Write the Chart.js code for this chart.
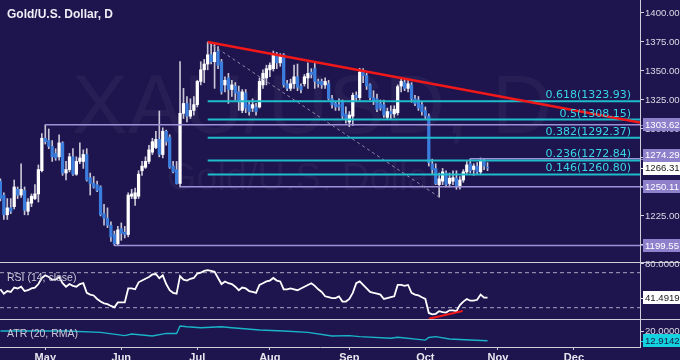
<!DOCTYPE html>
<html>
<head>
<meta charset="utf-8">
<script src="https://cdn.jsdelivr.net/npm/chart.js@4.4.1/dist/chart.umd.min.js"></script>
<style>
  html, body { margin: 0; padding: 0; background: #1e144e; }
</style>
</head>
<body>
<canvas id="chart" width="680" height="360"></canvas>
<script>
// Gold/U.S. Dollar daily, weekday index (May 2 = 0), first candle at index -13
const firstDay = -13;
const openP = [
  1255, 1243, 1226, 1232, 1233, 1248, 1243, 1247, 1229, 1236,
  1240, 1244, 1264, 1292, 1290, 1285, 1279, 1276, 1288, 1262,
  1265, 1276, 1261, 1272, 1272, 1278, 1258, 1253, 1252, 1250,
  1227, 1223, 1217, 1209, 1201, 1214, 1211, 1209, 1242, 1240,
  1242, 1264, 1267, 1272, 1280, 1284, 1291, 1278, 1298, 1293,
  1268, 1265, 1253, 1313.5, 1322, 1311, 1316, 1321, 1341, 1351,
  1356, 1364, 1358, 1367, 1358, 1338, 1344, 1334, 1337, 1332,
  1316, 1331, 1321, 1318, 1319, 1319, 1338, 1344, 1351, 1352,
  1364, 1357, 1364, 1339, 1335, 1339, 1345, 1337, 1339, 1344,
  1349, 1352, 1341, 1341, 1338, 1339, 1326, 1322, 1321, 1323,
  1313, 1306, 1311, 1329, 1327, 1349, 1346, 1338, 1327, 1326,
  1322, 1321, 1310, 1315, 1313, 1314, 1337, 1340, 1335, 1338,
  1326, 1325, 1321, 1316, 1311, 1270, 1266, 1252, 1255, 1262,
  1253, 1255, 1257.5, 1250, 1256, 1263, 1270, 1265, 1268, 1263,
  1272, 1267
];
const highP = [
  1257, 1245, 1240, 1240, 1256, 1250, 1270, 1250, 1240, 1244,
  1252, 1269, 1296, 1303.62, 1300, 1290, 1283, 1295, 1289, 1272,
  1279, 1283, 1276, 1288, 1282, 1283, 1262, 1259, 1255, 1251,
  1235, 1232, 1220, 1212, 1216, 1219, 1216, 1245, 1248, 1249,
  1264, 1272, 1276, 1286, 1292, 1298, 1315.5, 1301, 1299, 1295,
  1272, 1272, 1358, 1335, 1328, 1326, 1328, 1342, 1358, 1360,
  1375, 1374, 1373, 1371, 1360, 1345, 1348, 1342, 1340, 1337,
  1334, 1334, 1324, 1326, 1322, 1344, 1351, 1355, 1357, 1367.2,
  1366, 1365, 1365, 1342, 1343, 1355, 1356, 1339, 1347, 1357,
  1352, 1357, 1343, 1343, 1344, 1342, 1329, 1324, 1326, 1325,
  1319, 1315, 1331, 1332, 1352.3, 1352, 1348, 1339, 1333, 1330,
  1325, 1325, 1318, 1320, 1320, 1338, 1343.7, 1343, 1342, 1340,
  1329, 1328, 1323, 1319, 1313, 1274, 1270, 1262, 1266, 1264,
  1262, 1264, 1264, 1259, 1265, 1272, 1274.29, 1270, 1271, 1275,
  1274, 1271
];
const lowP = [
  1238, 1222, 1222, 1227, 1231, 1240, 1241, 1226, 1226, 1233,
  1239, 1237, 1263, 1287, 1283, 1272, 1273, 1273, 1260, 1256,
  1263, 1260, 1260, 1270, 1266, 1255, 1243, 1249, 1246, 1225,
  1217, 1215, 1203, 1199.55, 1200, 1204, 1206, 1207, 1240, 1234,
  1240, 1260, 1266, 1270, 1278, 1283, 1276, 1275, 1286, 1266,
  1262, 1252.5, 1250.11, 1309, 1306, 1309, 1312, 1319, 1338, 1340,
  1351, 1356, 1335, 1352, 1330, 1332, 1322, 1328, 1325, 1316,
  1314, 1314, 1312, 1315, 1312, 1318, 1335, 1338, 1345, 1350,
  1352, 1354, 1336, 1333, 1333, 1335, 1333, 1331, 1337, 1335,
  1344, 1335, 1336, 1335, 1335, 1325, 1318, 1316, 1316, 1308,
  1305, 1302, 1303, 1324, 1325, 1340, 1334, 1325, 1321, 1315,
  1316, 1310, 1308, 1308, 1310, 1312, 1332, 1333, 1332, 1323,
  1320, 1316, 1312, 1309, 1268, 1261, 1252, 1241.3, 1252, 1250,
  1250, 1252, 1248, 1248, 1254, 1261, 1262, 1260, 1261, 1261,
  1265, 1264
];
const closeP = [
  1240, 1226, 1232, 1229, 1250, 1243, 1248, 1230, 1237, 1242,
  1244, 1265, 1292, 1289, 1285, 1276, 1275, 1288, 1262, 1265,
  1276, 1261, 1272, 1275, 1278, 1256, 1253, 1250, 1247, 1226,
  1223, 1217, 1207, 1201, 1213, 1210, 1209, 1243, 1244, 1245,
  1261, 1268, 1272, 1282, 1289, 1291, 1278, 1298, 1289, 1267,
  1263, 1253, 1313.5, 1322, 1311, 1316, 1321, 1341, 1351, 1356,
  1364, 1358, 1366, 1355, 1332, 1342, 1334, 1338, 1331, 1324,
  1332, 1318, 1315, 1321, 1315, 1341, 1348, 1352, 1355, 1364,
  1357, 1363, 1338, 1335, 1339, 1345, 1336, 1334, 1345, 1348,
  1347, 1341, 1339, 1338, 1341, 1326, 1321, 1319, 1319, 1311,
  1308, 1312, 1329, 1327, 1349, 1346, 1337, 1327, 1324, 1317,
  1318, 1312, 1315, 1313, 1317, 1336.5, 1341, 1335, 1339, 1326,
  1322, 1318, 1315, 1311, 1271, 1265, 1253, 1257, 1263, 1252,
  1257.5, 1258, 1251, 1256, 1263, 1269, 1264, 1268, 1263, 1273,
  1268, 1266.31
];
const rsiVals = [
  51, 46, 49, 48, 53, 52, 54, 49, 50, 52,
  53, 57, 64, 67, 65, 62, 62, 65, 58, 54,
  57, 55, 54, 57, 58, 47, 45, 44, 40, 37,
  35, 34, 32, 30.4, 36, 36, 36, 52, 52, 51,
  59, 61, 63, 65, 68, 68.5, 63.6, 67, 57, 50,
  47, 46, 66, 62, 61, 63, 64, 69, 70, 72,
  73, 72, 71, 64, 57, 60, 58, 57, 54, 50,
  53, 52, 49, 48, 47, 56, 58, 60, 61, 64,
  61, 60, 51, 51, 52, 51, 50, 52, 54, 56,
  58, 55, 51, 48, 43, 42, 41, 41, 43, 37,
  37, 40, 47, 58, 60, 56, 52, 48, 47, 46,
  45, 40, 41, 42, 43, 56, 56, 55, 56, 47,
  45, 44, 42, 40, 24, 22.5, 23, 26, 25, 24.5,
  27, 27, 26, 33, 37, 40, 38, 38, 39, 45,
  41.5, 41.49
];
const atrDays = [-13, -4, 6, 16, 23, 25, 31, 35, 38, 39, 41, 45, 51, 54, 62, 69, 76, 83, 88, 91, 100, 102, 110, 111, 113, 117, 123, 128];
const atrVals = [20.6, 20.6, 20.6, 19.5, 16.9, 18.2, 16.6, 18.7, 18.6, 24.5, 23.9, 23.1, 23.9, 23.1, 21.3, 20.6, 19.5, 16.6, 16.9, 16.1, 14.8, 15.6, 13.4, 15.4, 16.1, 14.3, 13.5, 12.91];

const monthDays = [0, 22, 44, 65, 88, 110, 131, 153];
const monthNames = ['May', 'Jun', 'Jul', 'Aug', 'Sep', 'Oct', 'Nov', 'Dec'];
const priceTicks = [1200, 1225, 1250, 1275, 1300, 1325, 1350, 1375, 1400];

const fibNames = ['0.618', '0.5', '0.382', '0.236', '0.146'];
const fibLevels = [1323.93, 1308.15, 1292.37, 1272.84, 1260.80];
const fibStart = 47;
const levelValues = [1303.62, 1274.29, 1250.11, 1199.55];
const levelStart = [0, 123, 39, 20];
const trendDays = [47, 172.13];
const trendVals = [1375, 1305.5];
const swingDays = [47, 114];
const swingVals = [1375, 1241.3];
const rsiBands = [70, 30];
const rsiDivDays = [111, 120.8];
const rsiDivVals = [17.3, 26.2];
const lastRsi = 41.4919;
const lastAtr = 12.9142;

const X_MIN = -13.11, X_MAX = 172.13;
const BG = '#1e144e';
const UP = '#ffffff', DOWN = '#3b7ddd';
const LAV = '#9d91d8', TEAL = '#1fbccb';
const AXIS = '#cfcfdc';
const FONT = '"Liberation Sans", Arial, sans-serif';
const AXIS_FONT = { family: FONT, size: 9.6 };
const BOX_H = 13;

const days = openP.map((_, i) => firstDay + i);

function hLine(startDay, value) {
  return [{ x: startDay, y: value }, { x: X_MAX, y: value }];
}

const datasets = [];
datasets.push({
  type: 'bar', label: 'wick', yAxisID: 'y', order: 9, grouped: false,
  data: days.map((d, i) => ({ x: d, y: [lowP[i], highP[i]] })),
  backgroundColor: '#c6c6d6', barThickness: 1
});
datasets.push({
  type: 'bar', label: 'body', yAxisID: 'y', order: 8, grouped: false,
  data: days.map((d, i) => ({ x: d, y: [openP[i], closeP[i]] })),
  backgroundColor: days.map((d, i) => closeP[i] >= openP[i] ? UP : DOWN),
  barThickness: 2.6
});
levelValues.forEach((v, i) => datasets.push({
  type: 'line', yAxisID: 'y', order: 4, data: hLine(levelStart[i], v),
  borderColor: LAV, borderWidth: 1.5, pointRadius: 0
}));
fibLevels.forEach(v => datasets.push({
  type: 'line', yAxisID: 'y', order: 3, data: hLine(fibStart, v),
  borderColor: TEAL, borderWidth: 2, pointRadius: 0
}));
datasets.push({
  type: 'line', yAxisID: 'y', order: 3,
  data: swingDays.map((d, i) => ({ x: d, y: swingVals[i] })),
  borderColor: '#8e8aa8', borderWidth: 1, borderDash: [3, 3], pointRadius: 0
});
datasets.push({
  type: 'line', yAxisID: 'y', order: 1,
  data: trendDays.map((d, i) => ({ x: d, y: trendVals[i] })),
  borderColor: '#f01818', borderWidth: 2.5, pointRadius: 0
});
rsiBands.forEach(v => datasets.push({
  type: 'line', yAxisID: 'yRsi', order: 5, data: hLine(X_MIN, v),
  borderColor: '#a9a7c0', borderWidth: 1, borderDash: [4, 3], pointRadius: 0
}));
datasets.push({
  type: 'line', yAxisID: 'yRsi', order: 2,
  data: days.map((d, i) => ({ x: d, y: rsiVals[i] })),
  borderColor: '#ffffff', borderWidth: 1.8, pointRadius: 0
});
datasets.push({
  type: 'line', yAxisID: 'yRsi', order: 1,
  data: rsiDivDays.map((d, i) => ({ x: d, y: rsiDivVals[i] })),
  borderColor: '#f01818', borderWidth: 2, pointRadius: 0
});
datasets.push({
  type: 'line', yAxisID: 'yAtr', order: 2,
  data: atrDays.map((d, i) => ({ x: d, y: atrVals[i] })),
  borderColor: '#19b4c8', borderWidth: 1.4, pointRadius: 0
});

// 右侧轴的公共设置（去掉标签留白，让图区贴满画布）
function rightAxis(extra) {
  return Object.assign({
    type: 'linear', position: 'right', stack: 'panes',
    grid: { drawOnChartArea: false, drawTicks: true, tickLength: 4, color: AXIS },
    border: { display: true, color: AXIS },
    afterFit: s => { s.width = 40; s.paddingTop = 0; s.paddingBottom = 0; }
  }, extra);
}

const decor = {
  id: 'decor',
  beforeDraw(chart) {
    const c = chart.ctx;
    c.save();
    c.fillStyle = BG;
    c.fillRect(0, 0, chart.width, chart.height);
    c.fillStyle = 'rgba(255,255,255,0.045)';
    c.textAlign = 'center';
    c.textBaseline = 'alphabetic';
    c.font = '84px ' + FONT;
    c.fillText('XAU/USD, D', 312, 133);
    c.font = '38px ' + FONT;
    c.fillText('Gold/U.S. Dollar', 304, 190);
    c.restore();
  },
  afterDatasetsDraw(chart) {
    const c = chart.ctx;
    c.save();
    c.strokeStyle = AXIS;
    c.lineWidth = 1;
    [chart.scales.yRsi.top, chart.scales.yAtr.top].forEach(yy => {
      c.beginPath();
      c.moveTo(0, Math.round(yy) + 0.5);
      c.lineTo(chart.width, Math.round(yy) + 0.5);
      c.stroke();
    });
    c.restore();
  },
  afterDraw(chart) {
    const c = chart.ctx;
    const area = chart.chartArea;
    const y = chart.scales.y;
    c.save();
    // 标题与面板名称
    c.fillStyle = '#eeeef4';
    c.font = 'bold 12px ' + FONT;
    c.textBaseline = 'alphabetic';
    c.textAlign = 'left';
    c.fillText('Gold/U.S. Dollar, D', 7, 18);
    c.fillStyle = '#c9c8d6';
    c.font = '10.5px ' + FONT;
    c.textBaseline = 'middle';
    c.fillText('RSI (14, close)', 7, 278);
    c.fillText('ATR (20, RMA)', 7, 334.5);

    // 斐波那契标签
    c.fillStyle = '#38d6e6';
    c.font = '11px "DejaVu Sans", sans-serif';
    c.textAlign = 'right';
    c.textBaseline = 'alphabetic';
    fibLevels.forEach((v, i) => {
      c.fillText(fibNames[i] + '(' + v.toFixed(2) + ')', area.right - 9, y.getPixelForValue(v) - 3);
    });

    // 右侧价格框，重叠时向上挪
    const boxes = levelValues.map(v => ({ scale: y, v, text: v.toFixed(2), bg: '#8f80cc', fg: '#ffffff' }));
    boxes.push({ scale: y, v: closeP[closeP.length - 1], text: closeP[closeP.length - 1].toFixed(2), bg: '#ffffff', fg: '#202020' });
    boxes.push({ scale: chart.scales.yRsi, v: lastRsi, text: lastRsi.toFixed(4), bg: '#ffffff', fg: '#202020' });
    boxes.push({ scale: chart.scales.yAtr, v: lastAtr, text: lastAtr.toFixed(4), bg: '#14d2e0', fg: '#1a1a40' });
    boxes.forEach(b => { b.py = b.tick = b.scale.getPixelForValue(b.v); });
    const sorted = boxes.slice().sort((a, b) => b.py - a.py);
    for (let i = 1; i < sorted.length; i++) {
      const below = sorted[i - 1];
      if (sorted[i].py > below.py - BOX_H) sorted[i].py = below.py - BOX_H;
    }
    c.font = '9.6px ' + FONT;
    c.textAlign = 'left';
    c.textBaseline = 'middle';
    boxes.forEach(b => {
      c.fillStyle = b.bg;
      c.fillRect(area.right + 1, Math.round(b.tick), 3, 1);
      c.fillRect(area.right + 3, Math.round(b.py - BOX_H / 2), chart.width - area.right - 3, BOX_H);
      c.fillStyle = b.fg;
      c.fillText(b.text, area.right + 5, b.py + 0.5);
    });
    c.restore();
  }
};

new Chart(document.getElementById('chart'), {
  type: 'bar',
  data: { datasets },
  plugins: [decor],
  options: {
    responsive: false,
    devicePixelRatio: 1,
    animation: false,
    layout: { padding: 0 },
    plugins: { legend: { display: false }, tooltip: { enabled: false } },
    scales: {
      x: {
        type: 'linear', min: X_MIN, max: X_MAX, offset: false,
        grid: { display: true, drawOnChartArea: false, drawTicks: true, tickLength: 3, color: AXIS, offset: false },
        border: { display: true, color: AXIS },
        ticks: {
          autoSkip: false, maxRotation: 0, padding: 1, color: '#e8e8f0',
          font: { family: FONT, size: 11, weight: 'bold' },
          callback: v => monthNames[monthDays.indexOf(v)] || ''
        },
        afterBuildTicks: s => { s.ticks = monthDays.map(v => ({ value: v })); },
        afterFit: s => { s.height = 13; s.paddingLeft = 0; s.paddingRight = 0; }
      },
      y: rightAxis({
        stackWeight: 262, min: 1185.3, max: 1411.2,
        ticks: { color: '#dcdce6', padding: 1, font: AXIS_FONT, callback: v => v.toFixed(2) },
        afterBuildTicks: s => { s.ticks = priceTicks.map(v => ({ value: v })); }
      }),
      yRsi: rightAxis({
        stackWeight: 57, min: 17.1, max: 82.2,
        ticks: { color: '#dcdce6', padding: 1, font: AXIS_FONT, callback: v => v.toFixed(4) },
        afterBuildTicks: s => { s.ticks = [{ value: 80 }]; }
      }),
      yAtr: rightAxis({
        stackWeight: 28, min: 7.95, max: 30,
        ticks: { color: '#dcdce6', padding: 1, font: AXIS_FONT, callback: v => v.toFixed(4) },
        afterBuildTicks: s => { s.ticks = [{ value: 20 }]; }
      })
    }
  }
});
</script>
</body>
</html>
